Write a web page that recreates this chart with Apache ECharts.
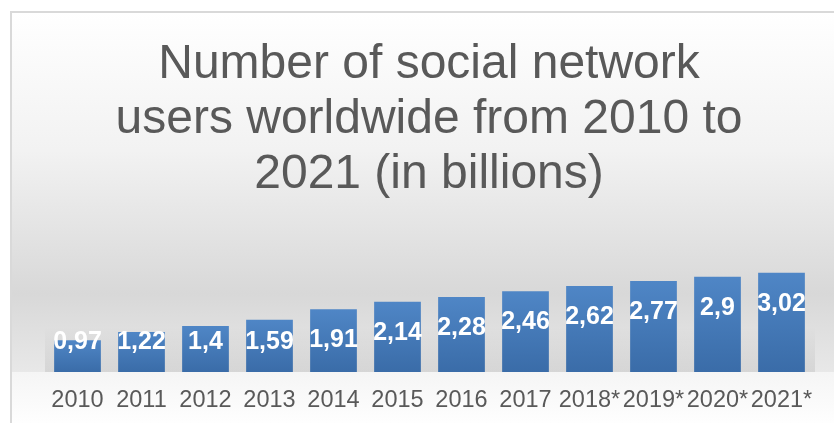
<!DOCTYPE html>
<html>
<head>
<meta charset="utf-8">
<script src="https://cdn.jsdelivr.net/npm/echarts@6/dist/echarts.min.js"></script>
<style>
  html, body { margin: 0; padding: 0; background: #ffffff; }
  #chart { width: 834px; height: 423px; }
</style>
</head>
<body>
<div id="chart"></div>
<script>
// Social network users per year, in billions (starred years are projections)
const categories = ['2010', '2011', '2012', '2013', '2014', '2015', '2016', '2017', '2018*', '2019*', '2020*', '2021*'];
const users = [0.97, 1.22, 1.4, 1.59, 1.91, 2.14, 2.28, 2.46, 2.62, 2.77, 2.9, 3.02];
const titleLines = ['Number of social network', 'users worldwide from 2010 to', '2021 (in billions)'];

const FONT = '"Liberation Sans", Arial, sans-serif';
const W = 834, H = 423;
const grid = { left: 45.5, right: 20.5, top: 257, bottom: 51 };
const yMax = 3.5;
const plotH = H - grid.top - grid.bottom;
const pxPerUnit = plotH / yMax;
const baseY = H - grid.bottom;

// Value labels sit near the top of each bar but never drop below a
// minimum height above the baseline (short bars push the label upward).
function labelDistance(v) {
  const h = v * pxPerUnit;
  const centre = Math.min(31, h - 30);
  return centre - 12.5;
}

const chart = echarts.init(document.getElementById('chart'), null, { renderer: 'canvas' });

chart.setOption({
  backgroundColor: '#ffffff',
  animation: false,
  graphic: [
    {
      type: 'rect', z: -10, silent: true,
      shape: { x: 11, y: 12, width: 830, height: 420 },
      style: {
        stroke: '#d9d9d9', lineWidth: 2,
        fill: {
          type: 'linear', x: 0, y: 0, x2: 0, y2: 1,
          colorStops: [
            { offset: 0, color: '#ffffff' },
            { offset: 0.33, color: '#f2f2f2' },
            { offset: 0.67, color: '#d8d8d8' },
            { offset: 0.857, color: '#e8e8e8' },
            { offset: 1, color: '#f0f0f0' }
          ]
        }
      }
    },
    {
      type: 'rect', z: -9, silent: true,
      shape: { x: 12, y: baseY, width: 822, height: H - baseY },
      style: {
        fill: {
          type: 'linear', x: 0, y: 0, x2: 0, y2: 1,
          colorStops: [
            { offset: 0, color: '#f5f5f5' },
            { offset: 1, color: '#fefefe' }
          ]
        }
      }
    },
    {
      type: 'rect', z: -8, silent: true,
      shape: { x: 45, y: baseY - 45, width: 770, height: 45 },
      style: {
        fill: {
          type: 'linear', x: 0, y: 0, x2: 0, y2: 1,
          colorStops: [
            { offset: 0, color: 'rgba(0,0,0,0)' },
            { offset: 1, color: 'rgba(0,0,0,0.08)' }
          ]
        }
      }
    },
    {
      type: 'text', z: 10, silent: true,
      x: 429, y: 37,
      style: {
        text: titleLines.join('\n'),
        align: 'center',
        verticalAlign: 'top',
        fontFamily: FONT,
        fontSize: 48,
        lineHeight: 55,
        fill: '#595959'
      }
    }
  ],
  grid: {
    left: grid.left, right: grid.right, top: grid.top, bottom: grid.bottom,
    containLabel: false
  },
  xAxis: {
    type: 'category',
    data: categories,
    axisLine: { show: false },
    axisTick: { show: false },
    splitLine: { show: false },
    axisLabel: {
      color: '#595959',
      fontFamily: FONT,
      fontSize: 23.5,
      margin: 17,
      interval: 0
    }
  },
  yAxis: {
    type: 'value',
    min: 0,
    max: yMax,
    show: false,
    splitLine: { show: false }
  },
  series: [{
    type: 'bar',
    barCategoryGap: '27%',
    data: users.map(v => ({ value: v, label: { distance: labelDistance(v) } })),
    itemStyle: {
      color: {
        type: 'linear', x: 0, y: 0, x2: 0, y2: 1,
        colorStops: [
          { offset: 0, color: '#4f86c6' },
          { offset: 1, color: '#3a6ca8' }
        ]
      }
    },
    label: {
      show: true,
      position: 'insideTop',
      color: '#ffffff',
      fontFamily: FONT,
      fontWeight: 'bold',
      fontSize: 25,
      lineHeight: 25,
      formatter: p => String(p.value).replace('.', ',')
    }
  }]
});
</script>
</body>
</html>
